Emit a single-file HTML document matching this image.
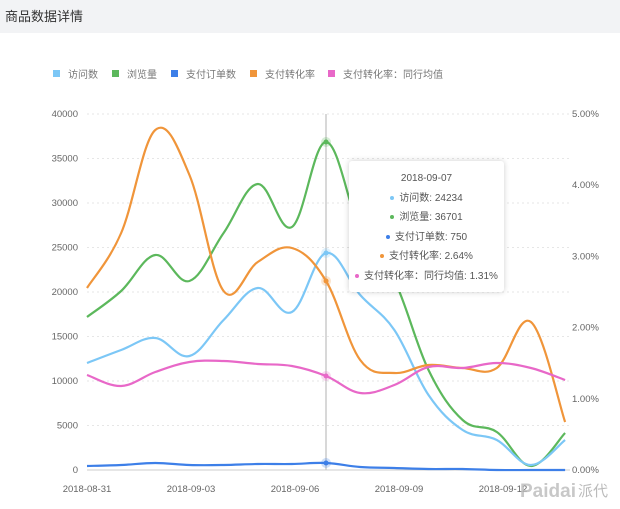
<!DOCTYPE html>
<html><head><meta charset="utf-8"><style>
body{margin:0;width:620px;height:509px;background:#fff;font-family:"Liberation Sans","Noto Sans CJK SC",sans-serif;overflow:hidden;position:relative}
.hdr{position:absolute;left:0;top:0;width:620px;height:33px;background:#f2f3f5;color:#333;font-size:13px;line-height:33px;padding-left:5px;box-sizing:border-box}
.tip{position:absolute;left:349px;top:161px;width:155px;height:131px;background:#fff;box-shadow:0 0 6px rgba(0,0,0,.2);border-radius:3px;font-size:10px;color:#555;text-align:center;line-height:19.5px;padding-top:8px;box-sizing:border-box}
.tip i{display:inline-block;width:4px;height:4px;border-radius:50%;margin-right:5px;vertical-align:middle}
</style></head><body>
<div class="hdr">商品数据详情</div>
<svg width="620" height="509" style="position:absolute;left:0;top:0" font-family="Liberation Sans, Noto Sans CJK SC, sans-serif">
<g font-size="10" fill="#777">
<rect x="53" y="70" width="7" height="7" fill="#7cc7f6"/><text x="68" y="78">访问数</text>
<rect x="112" y="70" width="7" height="7" fill="#5cb85c"/><text x="127" y="78">浏览量</text>
<rect x="171" y="70" width="7" height="7" fill="#3d7fe8"/><text x="186" y="78">支付订单数</text>
<rect x="250" y="70" width="7" height="7" fill="#f0953a"/><text x="265" y="78">支付转化率</text>
<rect x="328" y="70" width="7" height="7" fill="#e868c8"/><text x="343" y="78">支付转化率：同行均值</text>
</g>
<g id="grid" stroke="#e6e6e6" stroke-dasharray="2,3"></g>
<g id="ylab" font-size="9.5" fill="#666"></g>
<line x1="87" y1="470" x2="570" y2="470" stroke="#ccc"/>
<line x1="326" y1="114" x2="326" y2="470" stroke="#ccc" stroke-width="1.5"/>
<g id="lines" fill="none" stroke-width="2.2"></g>
<g font-size="9.5" fill="#666" text-anchor="middle">
<text x="87" y="492">2018-08-31</text><text x="191" y="492">2018-09-03</text><text x="295" y="492">2018-09-06</text><text x="399" y="492">2018-09-09</text><text x="503" y="492">2018-09-12</text>
</g>
<text x="520" y="497" font-size="19" font-weight="bold" fill="#bbb" opacity="0.8">Paidai</text>
<text x="578" y="496" font-size="15" fill="#bbb">派代</text>
</svg>
<div class="tip">2018-09-07<br><i style="background:#7cc7f6"></i>访问数: 24234<br><i style="background:#5cb85c"></i>浏览量: 36701<br><i style="background:#3d7fe8"></i>支付订单数: 750<br><i style="background:#f0953a"></i>支付转化率: 2.64%<br><i style="background:#e868c8"></i>支付转化率：同行均值: 1.31%</div>
<script>
var ns="http://www.w3.org/2000/svg";
function el(p,t,a,txt){var e=document.createElementNS(ns,t);for(var k in a)e.setAttribute(k,a[k]);if(txt)e.textContent=txt;document.getElementById(p).appendChild(e);return e;}
for(var i=0;i<=8;i++){var y=470-i*44.5;if(i>0)el("grid","line",{x1:87,x2:570,y1:y,y2:y});
el("ylab","text",{x:78,y:y+3,"text-anchor":"end"},String(i*5000));}
for(var i=0;i<=5;i++){var y=470-i*71.2;el("ylab","text",{x:572,y:y+3},i.toFixed(2)+"%");}
var X=[];for(var i=0;i<15;i++)X.push(87+i*34.15);
var S=[
["#5cb85c",[317,291,255,281,233,184,227,142,230,280,370,420,432,466,433]],
["#7cc7f6",[363,350,338,356,320,288,312,253,295,330,395,430,440,465,440]],
["#f0953a",[288,233,130,175,291,262,248,281,360,373,365,368,368,322,422]],
["#e868c8",[375,386,372,362,361,364,366,376,393,385,367,368,363,368,380]],
["#3d7fe8",[466,465,463,465,465,464,464,463,467,468,469,469,470,470,470]]];
function path(Y){var d="M"+X[0]+","+Y[0];for(var i=0;i<Y.length-1;i++){var p0=[X[Math.max(i-1,0)],Y[Math.max(i-1,0)]],p1=[X[i],Y[i]],p2=[X[i+1],Y[i+1]],p3=[X[Math.min(i+2,Y.length-1)],Y[Math.min(i+2,Y.length-1)]];
var t=0.18;d+=" C"+(p1[0]+(p2[0]-p0[0])*t)+","+(p1[1]+(p2[1]-p0[1])*t)+" "+(p2[0]-(p3[0]-p1[0])*t)+","+(p2[1]-(p3[1]-p1[1])*t)+" "+p2[0]+","+p2[1];}return d;}
S.forEach(function(s){el("lines","path",{d:path(s[1]),stroke:s[0]});
el("lines","circle",{cx:X[7],cy:s[1][7],r:5,fill:s[0],"fill-opacity":0.25,stroke:"none"});
el("lines","circle",{cx:X[7],cy:s[1][7],r:2.5,fill:s[0],stroke:"none"});});
</script>
</body></html>
